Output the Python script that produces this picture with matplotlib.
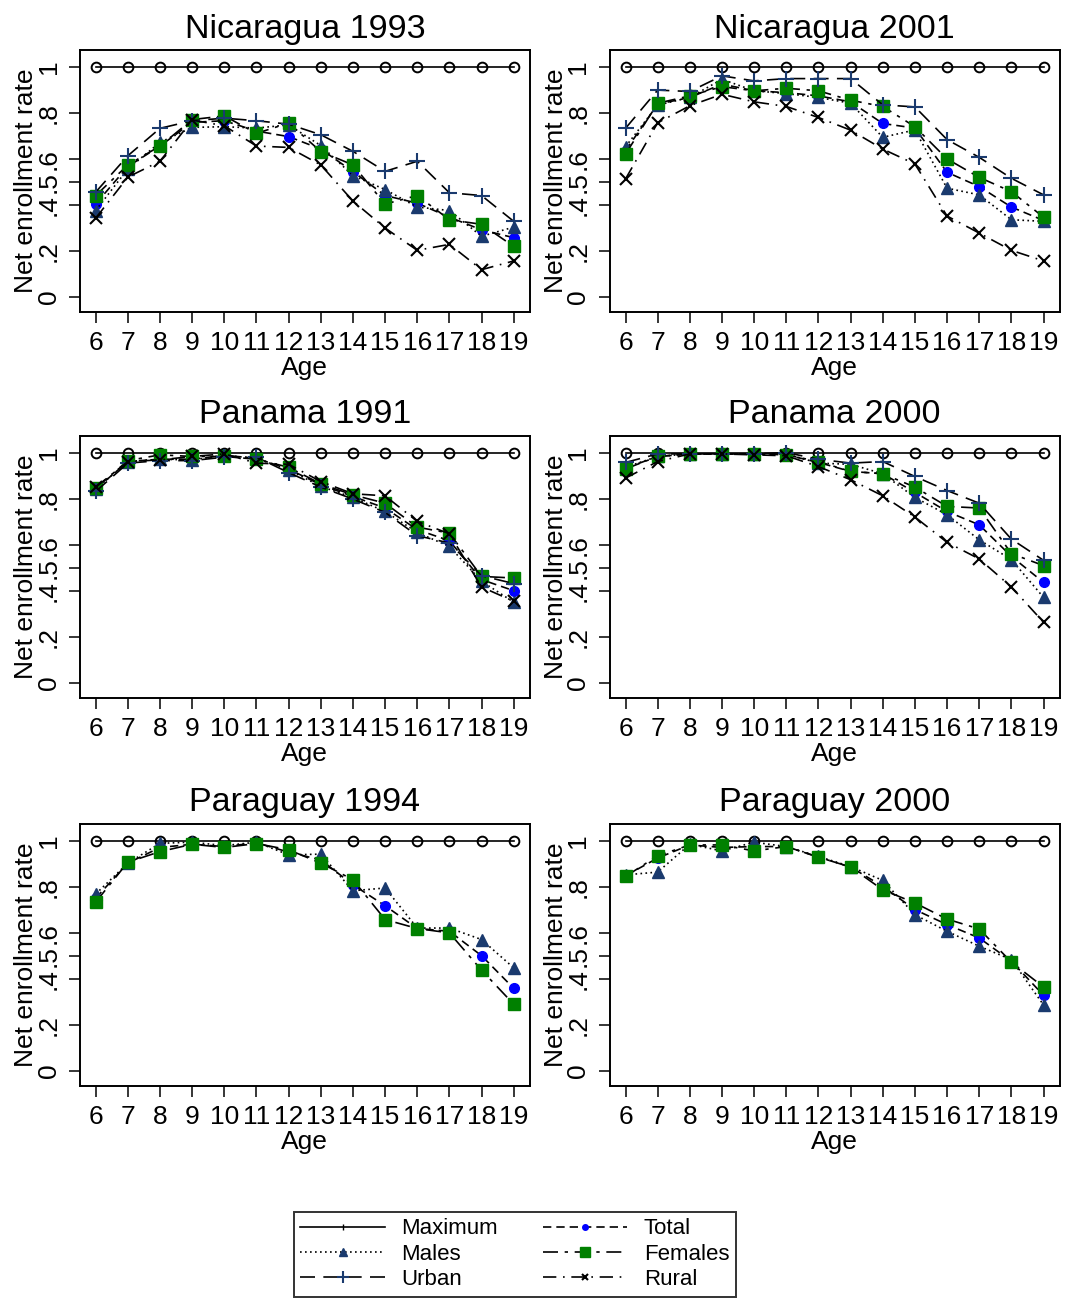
import matplotlib
matplotlib.use("Agg")
import matplotlib.pyplot as plt
from matplotlib.lines import Line2D

plt.rcParams["font.family"] = ["Liberation Sans", "DejaVu Sans"]

ages = list(range(6, 20))
maximum = [1.0] * 14

titles = ["Nicaragua 1993", "Nicaragua 2001", "Panama 1991", "Panama 2000",
          "Paraguay 1994", "Paraguay 2000"]

# Nicaragua 1993
nic93_total = [0.404, 0.566, 0.655, 0.758, 0.765, 0.72, 0.696, 0.642, 0.544, 0.44, 0.407, 0.346, 0.291, 0.257]
nic93_males = [0.375, 0.556, 0.671, 0.736, 0.739, 0.733, 0.747, 0.657, 0.527, 0.466, 0.39, 0.375, 0.263, 0.303]
nic93_females = [0.44, 0.573, 0.655, 0.77, 0.786, 0.71, 0.755, 0.631, 0.573, 0.403, 0.44, 0.335, 0.315, 0.219]
nic93_urban = [0.455, 0.613, 0.732, 0.765, 0.776, 0.765, 0.75, 0.704, 0.632, 0.545, 0.589, 0.452, 0.44, 0.328]
nic93_rural = [0.342, 0.52, 0.589, 0.768, 0.743, 0.655, 0.649, 0.573, 0.416, 0.299, 0.202, 0.228, 0.118, 0.156]

# Nicaragua 2001
nic01_total = [0.635, 0.837, 0.866, 0.924, 0.895, 0.887, 0.873, 0.847, 0.753, 0.733, 0.541, 0.479, 0.39, 0.332]
nic01_males = [0.652, 0.833, 0.866, 0.945, 0.895, 0.883, 0.866, 0.841, 0.693, 0.725, 0.472, 0.443, 0.335, 0.328]
nic01_females = [0.62, 0.841, 0.873, 0.913, 0.895, 0.906, 0.895, 0.854, 0.827, 0.739, 0.599, 0.519, 0.457, 0.346]
nic01_urban = [0.732, 0.898, 0.892, 0.96, 0.938, 0.948, 0.948, 0.948, 0.834, 0.825, 0.683, 0.606, 0.515, 0.443]
nic01_rural = [0.512, 0.756, 0.83, 0.88, 0.847, 0.827, 0.779, 0.724, 0.642, 0.577, 0.351, 0.277, 0.202, 0.156]

# Panama 1991
pan91_total = [0.841, 0.961, 0.971, 0.971, 0.988, 0.975, 0.928, 0.86, 0.809, 0.759, 0.665, 0.617, 0.448, 0.40]
pan91_males = [0.841, 0.961, 0.971, 0.968, 0.988, 0.975, 0.925, 0.853, 0.805, 0.744, 0.653, 0.592, 0.441, 0.35]
pan91_females = [0.845, 0.965, 0.99, 0.983, 0.983, 0.971, 0.936, 0.864, 0.816, 0.78, 0.676, 0.65, 0.462, 0.455]
pan91_urban = [0.831, 0.954, 0.965, 0.965, 0.98, 0.98, 0.913, 0.85, 0.798, 0.74, 0.639, 0.607, 0.465, 0.431]
pan91_rural = [0.85, 0.961, 0.968, 0.983, 0.994, 0.954, 0.949, 0.874, 0.821, 0.812, 0.701, 0.647, 0.416, 0.354]

# Panama 2000
pan00_total = [0.932, 0.983, 0.994, 0.994, 0.994, 0.99, 0.957, 0.918, 0.908, 0.827, 0.744, 0.686, 0.549, 0.436]
pan00_males = [0.936, 0.983, 0.994, 0.994, 0.994, 0.994, 0.954, 0.949, 0.908, 0.805, 0.73, 0.621, 0.535, 0.371]
pan00_females = [0.929, 0.983, 0.994, 0.994, 0.994, 0.99, 0.961, 0.918, 0.908, 0.85, 0.766, 0.759, 0.561, 0.509]
pan00_urban = [0.957, 0.994, 0.994, 0.994, 0.994, 1.0, 0.971, 0.954, 0.961, 0.896, 0.835, 0.78, 0.624, 0.532]
pan00_rural = [0.889, 0.961, 0.994, 0.994, 0.99, 0.986, 0.939, 0.882, 0.812, 0.72, 0.61, 0.538, 0.416, 0.263]

# Paraguay 1994 (no urban / rural)
par94_total = [0.75, 0.902, 0.97, 0.984, 0.974, 0.99, 0.95, 0.916, 0.808, 0.717, 0.618, 0.606, 0.5, 0.358]
par94_males = [0.768, 0.902, 0.988, 0.993, 0.978, 0.993, 0.938, 0.941, 0.782, 0.794, 0.62, 0.62, 0.57, 0.447]
par94_females = [0.733, 0.906, 0.952, 0.984, 0.97, 0.987, 0.96, 0.902, 0.83, 0.657, 0.618, 0.599, 0.437, 0.289]

# Paraguay 2000 (no urban / rural)
par00_total = [0.847, 0.924, 0.981, 0.97, 0.974, 0.974, 0.928, 0.885, 0.801, 0.70, 0.635, 0.577, 0.476, 0.328]
par00_males = [0.851, 0.863, 0.984, 0.955, 0.993, 0.974, 0.931, 0.887, 0.827, 0.678, 0.606, 0.541, 0.483, 0.286]
par00_females = [0.844, 0.934, 0.981, 0.981, 0.955, 0.974, 0.928, 0.885, 0.786, 0.729, 0.659, 0.616, 0.472, 0.364]

panels = [
    (nic93_total, nic93_males, nic93_females, nic93_urban, nic93_rural),
    (nic01_total, nic01_males, nic01_females, nic01_urban, nic01_rural),
    (pan91_total, pan91_males, pan91_females, pan91_urban, pan91_rural),
    (pan00_total, pan00_males, pan00_females, pan00_urban, pan00_rural),
    (par94_total, par94_males, par94_females, None, None),
    (par00_total, par00_males, par00_females, None, None),
]

NAVY = "#1a3a6e"
BLUE = "#0000ff"
GREEN = "#008000"
LW = 1.2

styles = {
    "total": dict(color="black", ls=(0, (5, 3)), marker="o", mfc=BLUE, mec=BLUE, ms=7),
    "males": dict(color="black", ls=(0, (1, 2)), marker="^", mfc=NAVY, mec=NAVY, ms=9),
    "females": dict(color="black", ls=(0, (9, 4, 2, 4)), marker="s", mfc=GREEN, mec=GREEN, ms=8),
    "urban": dict(color="black", ls=(0, (9, 5)), marker="+", mfc=NAVY, mec=NAVY, ms=12, mew=1.5),
    "rural": dict(color="black", ls=(0, (8, 4, 1, 4)), marker="x", mfc="black", mec="black", ms=9, mew=1.5),
}

fig = plt.figure(figsize=(10.66, 13.10), dpi=100)

lefts = [0.075, 0.572]
bottoms = [0.7618, 0.4672, 0.171]
w, h = 0.422, 0.2

for i, (title, series) in enumerate(zip(titles, panels)):
    ax = fig.add_axes([lefts[i % 2], bottoms[i // 2], w, h])
    ax.plot(ages, maximum, color="black", lw=LW, marker="o", mfc="none", mec="black", ms=7, mew=1.4)
    names = ["total", "males", "females", "urban", "rural"]
    for name, vals in zip(names, series):
        if vals is None:
            continue
        ax.plot(ages, vals, lw=LW, **styles[name])

    ax.set_xlim(5.51, 19.5)
    ax.set_ylim(-0.066, 1.072)
    ax.set_xticks(ages)
    ax.set_xticklabels([str(a) for a in ages])
    ax.set_yticks([0, 0.2, 0.4, 0.5, 0.6, 0.8, 1])
    ax.set_yticklabels(["0", ".2", ".4", ".5", ".6", ".8", "1"], rotation=90, va="center")
    ax.tick_params(direction="out", length=8, width=1.1, labelsize=19, pad=6)
    for sp in ax.spines.values():
        sp.set_linewidth(1.4)
    ax.set_title(title, fontsize=24.5, pad=9)
    ax.set_xlabel("Age", fontsize=19, labelpad=0.5)
    ax.set_ylabel("Net enrollment rate", fontsize=19, labelpad=-1)

handles = [
    Line2D([], [], color="black", lw=LW, marker="|", ms=5),
    Line2D([], [], lw=LW, **{**styles["males"], "ms": 6}),
    Line2D([], [], lw=LW, **{**styles["urban"], "ms": 8}),
    Line2D([], [], lw=LW, **{**styles["total"], "ms": 4}),
    Line2D([], [], lw=LW, **{**styles["females"], "ms": 7}),
    Line2D([], [], lw=LW, **{**styles["rural"], "ms": 4}),
]
labels = ["Maximum", "Males", "Urban", "Total", "Females", "Rural"]
leg = fig.legend(handles, labels, ncol=2, loc="lower center", bbox_to_anchor=(0.483, 0.0015),
                 fontsize=16, frameon=True, fancybox=False, edgecolor="black",
                 handlelength=3.8, columnspacing=2.0, labelspacing=0.2, borderpad=0.3,
                 handletextpad=0.75)
leg.get_frame().set_linewidth(1.4)

fig.savefig("out.png", dpi=100)
